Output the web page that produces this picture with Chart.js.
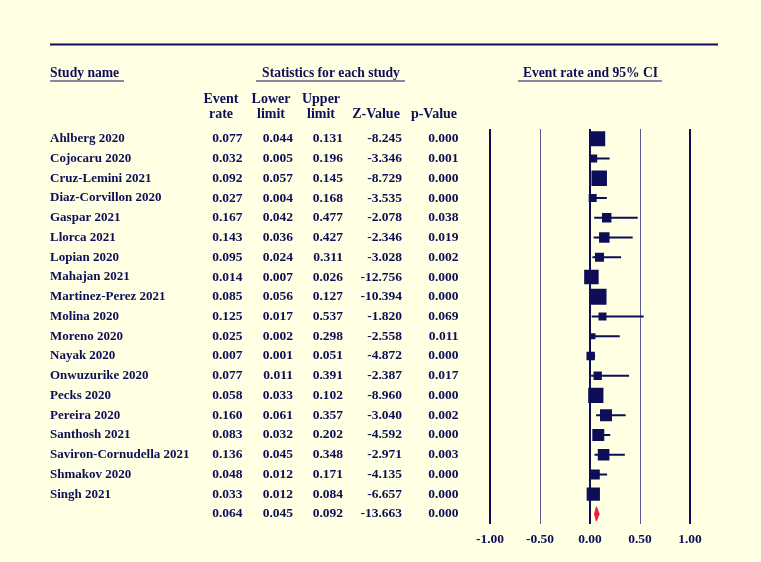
<!DOCTYPE html>
<html>
<head>
<meta charset="utf-8">
<script src="https://cdn.jsdelivr.net/npm/chart.js@4/dist/chart.umd.min.js"></script>
<style>
  html, body { margin: 0; padding: 0; background: #FFFFE3; }
  #wrap { width: 761px; height: 562px; position: relative; }
</style>
</head>
<body>
<div id="wrap"><canvas id="c" width="761" height="562"></canvas></div>
<script>
// ---- data ----
const studies = ["Ahlberg 2020", "Cojocaru 2020", "Cruz-Lemini 2021", "Diaz-Corvillon 2020",
  "Gaspar 2021", "Llorca 2021", "Lopian 2020", "Mahajan 2021", "Martinez-Perez 2021",
  "Molina 2020", "Moreno 2020", "Nayak 2020", "Onwuzurike 2020", "Pecks 2020",
  "Pereira 2020", "Santhosh 2021", "Saviron-Cornudella 2021", "Shmakov 2020", "Singh 2021"];
const eventRate = [0.077, 0.032, 0.092, 0.027, 0.167, 0.143, 0.095, 0.014, 0.085, 0.125, 0.025, 0.007, 0.077, 0.058, 0.160, 0.083, 0.136, 0.048, 0.033];
const lowerLimit = [0.044, 0.005, 0.057, 0.004, 0.042, 0.036, 0.024, 0.007, 0.056, 0.017, 0.002, 0.001, 0.011, 0.033, 0.061, 0.032, 0.045, 0.012, 0.012];
const upperLimit = [0.131, 0.196, 0.145, 0.168, 0.477, 0.427, 0.311, 0.026, 0.127, 0.537, 0.298, 0.051, 0.391, 0.102, 0.357, 0.202, 0.348, 0.171, 0.084];
const zValue = [-8.245, -3.346, -8.729, -3.535, -2.078, -2.346, -3.028, -12.756, -10.394, -1.820, -2.558, -4.872, -2.387, -8.960, -3.040, -4.592, -2.971, -4.135, -6.657];
const pValue = [0.000, 0.001, 0.000, 0.000, 0.038, 0.019, 0.002, 0.000, 0.000, 0.069, 0.011, 0.000, 0.017, 0.000, 0.002, 0.000, 0.003, 0.000, 0.000];
// relative weights (%)
const weights = [8.8, 2.5, 9.4, 2.5, 3.5, 4.3, 3.2, 8.2, 10.0, 2.5, 1.4, 2.8, 2.7, 9.1, 5.6, 5.6, 5.3, 3.9, 6.9];
// pooled summary
const pooled = { rate: 0.064, lower: 0.045, upper: 0.092, z: -13.663, p: 0.000 };
const xTicks = [-1.0, -0.5, 0.0, 0.5, 1.0];

// ---- style ----
const NAVY = '#0E0E58';
const RED = '#E8204A';
const SERIF = '"Liberation Serif", "Times New Roman", serif';
const nRows = studies.length + 1;
const summaryRow = studies.length;

const ciData = [];
studies.forEach((s, i) => {
  ciData.push({ x: lowerLimit[i], y: i }, { x: upperLimit[i], y: i }, { x: null, y: null });
});
const boxData = studies.map((s, i) => ({ x: eventRate[i], y: i }));
const boxRadius = weights.map(w => 16 * Math.sqrt(w / 10) / Math.SQRT2);
const DH = 0.36;
const diamondData = [
  { x: pooled.lower, y: summaryRow },
  { x: pooled.rate, y: summaryRow - DH },
  { x: pooled.upper, y: summaryRow },
  { x: pooled.rate, y: summaryRow + DH },
  { x: pooled.lower, y: summaryRow }
];

const tablePlugin = {
  id: 'table',
  afterDraw(chart) {
    const ctx = chart.ctx;
    const ys = chart.scales.y;
    ctx.save();
    ctx.fillStyle = NAVY;
    ctx.strokeStyle = NAVY;
    // top rule
    ctx.lineWidth = 2;
    ctx.beginPath(); ctx.moveTo(50, 44.5); ctx.lineTo(718, 44.5); ctx.stroke();
    // section headers
    ctx.font = 'bold 13.6px ' + SERIF;
    ctx.textBaseline = 'middle';
    ctx.textAlign = 'left';
    ctx.fillText('Study name', 50, 73);
    ctx.textAlign = 'center';
    ctx.fillText('Statistics for each study', 331, 73);
    ctx.fillText('Event rate and 95% CI', 590.5, 73);
    ctx.lineWidth = 1.2;
    ctx.beginPath();
    ctx.moveTo(50, 81); ctx.lineTo(124, 81);
    ctx.moveTo(256, 81); ctx.lineTo(405, 81);
    ctx.moveTo(518, 81); ctx.lineTo(662, 81);
    ctx.stroke();
    // column headers
    ctx.font = 'bold 14px ' + SERIF;
    const hdr = [['Event', 'rate', 221], ['Lower', 'limit', 271], ['Upper', 'limit', 321], ['', 'Z-Value', 376], ['', 'p-Value', 434]];
    hdr.forEach(h => {
      if (h[0]) ctx.fillText(h[0], h[2], 99);
      ctx.fillText(h[1], h[2], 114);
    });
    // rows
    const colX = [242.5, 293, 343, 402, 458.5];
    const drawRow = (y, vals) => {
      ctx.font = 'bold 13.5px ' + SERIF;
      ctx.textAlign = 'right';
      vals.forEach((v, k) => ctx.fillText(v.toFixed(3), colX[k], y));
    };
    studies.forEach((s, i) => {
      const y = ys.getPixelForValue(i);
      ctx.font = 'bold 13px ' + SERIF;
      ctx.textAlign = 'left';
      ctx.fillText(s, 50, y);
      drawRow(y, [eventRate[i], lowerLimit[i], upperLimit[i], zValue[i], pValue[i]]);
    });
    drawRow(ys.getPixelForValue(summaryRow), [pooled.rate, pooled.lower, pooled.upper, pooled.z, pooled.p]);
    ctx.restore();
  }
};

new Chart(document.getElementById('c'), {
  type: 'scatter',
  data: {
    datasets: [
      { label: 'pooled', data: diamondData, showLine: true, fill: 'shape', backgroundColor: RED,
        borderColor: RED, borderWidth: 1, pointRadius: 0, order: 0 },
      { label: 'boxes', data: boxData, pointStyle: 'rect', pointRadius: boxRadius,
        backgroundColor: NAVY, borderWidth: 0, pointBorderWidth: 0, order: 1 },
      { label: 'ci', data: ciData, showLine: true, spanGaps: false, borderColor: NAVY,
        borderWidth: 2, pointRadius: 0, fill: false, order: 2 }
    ]
  },
  options: {
    responsive: false,
    devicePixelRatio: 1,
    animation: false,
    events: [],
    layout: { padding: { left: 490, right: 71, top: 129, bottom: 6 } },
    plugins: { legend: { display: false }, tooltip: { enabled: false }, title: { display: false } },
    scales: {
      x: {
        type: 'linear', min: -1, max: 1,
        afterBuildTicks: s => { s.ticks = xTicks.map(v => ({ value: v })); },
        border: { display: false },
        grid: {
          drawTicks: false,
          color: c => (Math.abs(c.tick.value) === 0.5 ? '#5A5A96' : NAVY),
          lineWidth: c => (Math.abs(c.tick.value) === 0.5 ? 1 : 2)
        },
        ticks: {
          padding: 8,
          color: NAVY,
          font: { family: SERIF, size: 13.5, weight: 'bold' },
          callback: v => v.toFixed(2)
        }
      },
      y: { type: 'linear', reverse: true, min: -0.5, max: nRows - 0.5, display: false }
    }
  },
  plugins: [tablePlugin]
});
</script>
</body>
</html>
